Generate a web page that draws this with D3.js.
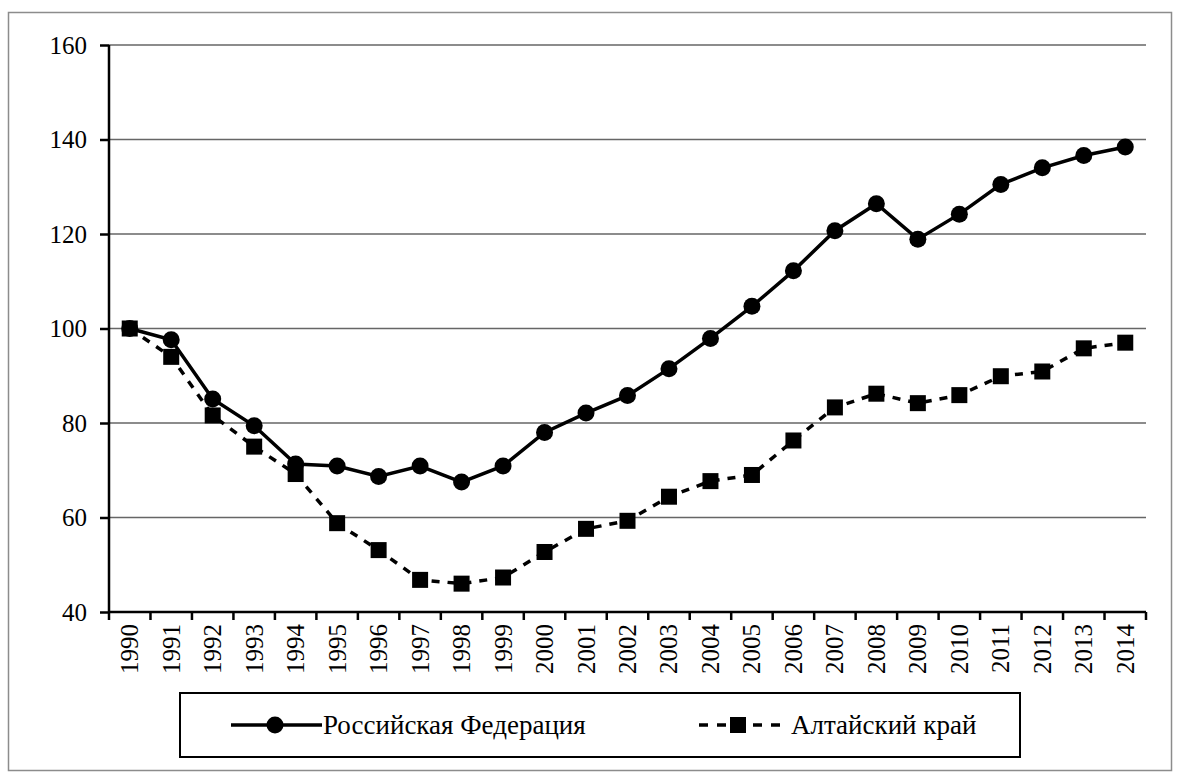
<!DOCTYPE html>
<html>
<head>
<meta charset="utf-8">
<script src="https://cdn.jsdelivr.net/npm/d3@7"></script>
<style>
	body { margin: 0; background: #fff; }
	svg text { font-family: 'Liberation Serif', 'Times New Roman', serif; fill: #000; }
</style>
</head>
<body>
<svg id="chart" width="1181" height="774"></svg>
<script>
// data (1990 = 100)
var years = ["1990","1991","1992","1993","1994","1995","1996","1997","1998","1999","2000","2001","2002",
	"2003","2004","2005","2006","2007","2008","2009","2010","2011","2012","2013","2014"];
var russia = [100, 97.6, 85.1, 79.4, 71.3, 70.9, 68.7, 70.9, 67.5, 70.9, 78.0, 82.1, 85.8,
	91.5, 97.9, 104.7, 112.2, 120.7, 126.4, 118.9, 124.2, 130.5, 134.0, 136.6, 138.4];
var altai = [100, 94.0, 81.6, 75.0, 69.2, 58.8, 53.1, 46.8, 46.0, 47.3, 52.7, 57.6, 59.3,
	64.4, 67.7, 69.0, 76.3, 83.3, 86.2, 84.2, 85.9, 89.9, 90.9, 95.8, 97.0];
var yTicks = [40, 60, 80, 100, 120, 140, 160];
var seriesNames = ["Российская Федерация", "Алтайский край"];

var FONT = "'Liberation Serif', 'Times New Roman', serif";
var svg = d3.select("#chart");
var plot = {left: 109, right: 1146, top: 45, bottom: 612};

// outer frame
svg.append("rect")
	.attr("x", 8.5).attr("y", 12.5)
	.attr("width", 1163).attr("height", 758)
	.attr("fill", "none").attr("stroke", "#8c8c8c").attr("stroke-width", 1.5);

var x = d3.scaleBand().domain(years).range([plot.left, plot.right]);
var y = d3.scaleLinear().domain([40, 160]).range([plot.bottom, plot.top]);

// gridlines
svg.append("g").selectAll("line")
	.data(yTicks.filter(function(d){ return d > 40; }))
	.enter().append("line")
	.attr("x1", plot.left).attr("x2", plot.right)
	.attr("y1", function(d){ return y(d); }).attr("y2", function(d){ return y(d); })
	.attr("stroke", "#666").attr("stroke-width", 1.3);

// y axis
var yAxis = svg.append("g")
	.attr("transform", "translate(" + plot.left + ",0)")
	.call(d3.axisLeft(y).tickValues(yTicks).tickSize(9).tickPadding(13));
yAxis.attr("font-family", FONT).attr("font-size", 25);
yAxis.select(".domain").attr("stroke", "#000").attr("stroke-width", 2.5)
	.attr("d", "M0," + plot.top + "V" + plot.bottom);
yAxis.selectAll(".tick line").attr("stroke", "#000").attr("stroke-width", 2.5);
yAxis.selectAll(".tick text").attr("fill", "#000");

// x axis: ticks on band edges, labels rotated
var xg = svg.append("g").attr("transform", "translate(0," + plot.bottom + ")");
xg.append("line")
	.attr("x1", plot.left).attr("x2", plot.right)
	.attr("stroke", "#000").attr("stroke-width", 2.5);
var edges = years.map(function(d){ return x(d); }).concat([x(years[years.length-1]) + x.bandwidth()]);
xg.selectAll(".edge").data(edges).enter().append("line")
	.attr("class", "edge")
	.attr("x1", function(d){ return d; }).attr("x2", function(d){ return d; })
	.attr("y1", 0).attr("y2", 8)
	.attr("stroke", "#000").attr("stroke-width", 2.5);
xg.selectAll("text").data(years).enter().append("text")
	.attr("transform", function(d){
		return "translate(" + (x(d) + x.bandwidth()/2 + 8.5) + ",12) rotate(-90)";
	})
	.attr("text-anchor", "end")
	.style("font-family", FONT)
	.style("font-size", "25px")
	.text(function(d){ return d; });

var cx = function(i){ return x(years[i]) + x.bandwidth()/2; };
var line = d3.line()
	.x(function(d, i){ return cx(i); })
	.y(function(d){ return y(d); });

// Altai (dashed, squares)
svg.append("path").datum(altai)
	.attr("d", line).attr("fill", "none")
	.attr("stroke", "#000").attr("stroke-width", 3.5).attr("stroke-dasharray", "8,8");
svg.append("g").selectAll("rect").data(altai).enter().append("rect")
	.attr("x", function(d, i){ return cx(i) - 8; })
	.attr("y", function(d){ return y(d) - 8; })
	.attr("width", 16).attr("height", 16).attr("fill", "#000");

// Russia (solid, circles)
svg.append("path").datum(russia)
	.attr("d", line).attr("fill", "none")
	.attr("stroke", "#000").attr("stroke-width", 3.5);
svg.append("g").selectAll("circle").data(russia).enter().append("circle")
	.attr("cx", function(d, i){ return cx(i); })
	.attr("cy", function(d){ return y(d); })
	.attr("r", 8.5).attr("fill", "#000");

// legend
var lg = svg.append("g");
lg.append("rect")
	.attr("x", 180).attr("y", 693).attr("width", 840).attr("height", 64)
	.attr("fill", "#fff").attr("stroke", "#000").attr("stroke-width", 2);
var ly = 725;
lg.append("line").attr("x1", 231).attr("x2", 322).attr("y1", ly).attr("y2", ly)
	.attr("stroke", "#000").attr("stroke-width", 3.5);
lg.append("circle").attr("cx", 275).attr("cy", ly).attr("r", 8.5).attr("fill", "#000");
lg.append("text").attr("x", 323).attr("y", ly + 9)
	.style("font-family", FONT).style("font-size", "27px")
	.text(seriesNames[0]);
lg.append("line").attr("x1", 699).attr("x2", 786).attr("y1", ly).attr("y2", ly)
	.attr("stroke", "#000").attr("stroke-width", 3.5).attr("stroke-dasharray", "9,9");
lg.append("rect").attr("x", 730).attr("y", ly - 8).attr("width", 16).attr("height", 16).attr("fill", "#000");
lg.append("text").attr("x", 791).attr("y", ly + 9)
	.style("font-family", FONT).style("font-size", "27px")
	.text(seriesNames[1]);
</script>
</body>
</html>
